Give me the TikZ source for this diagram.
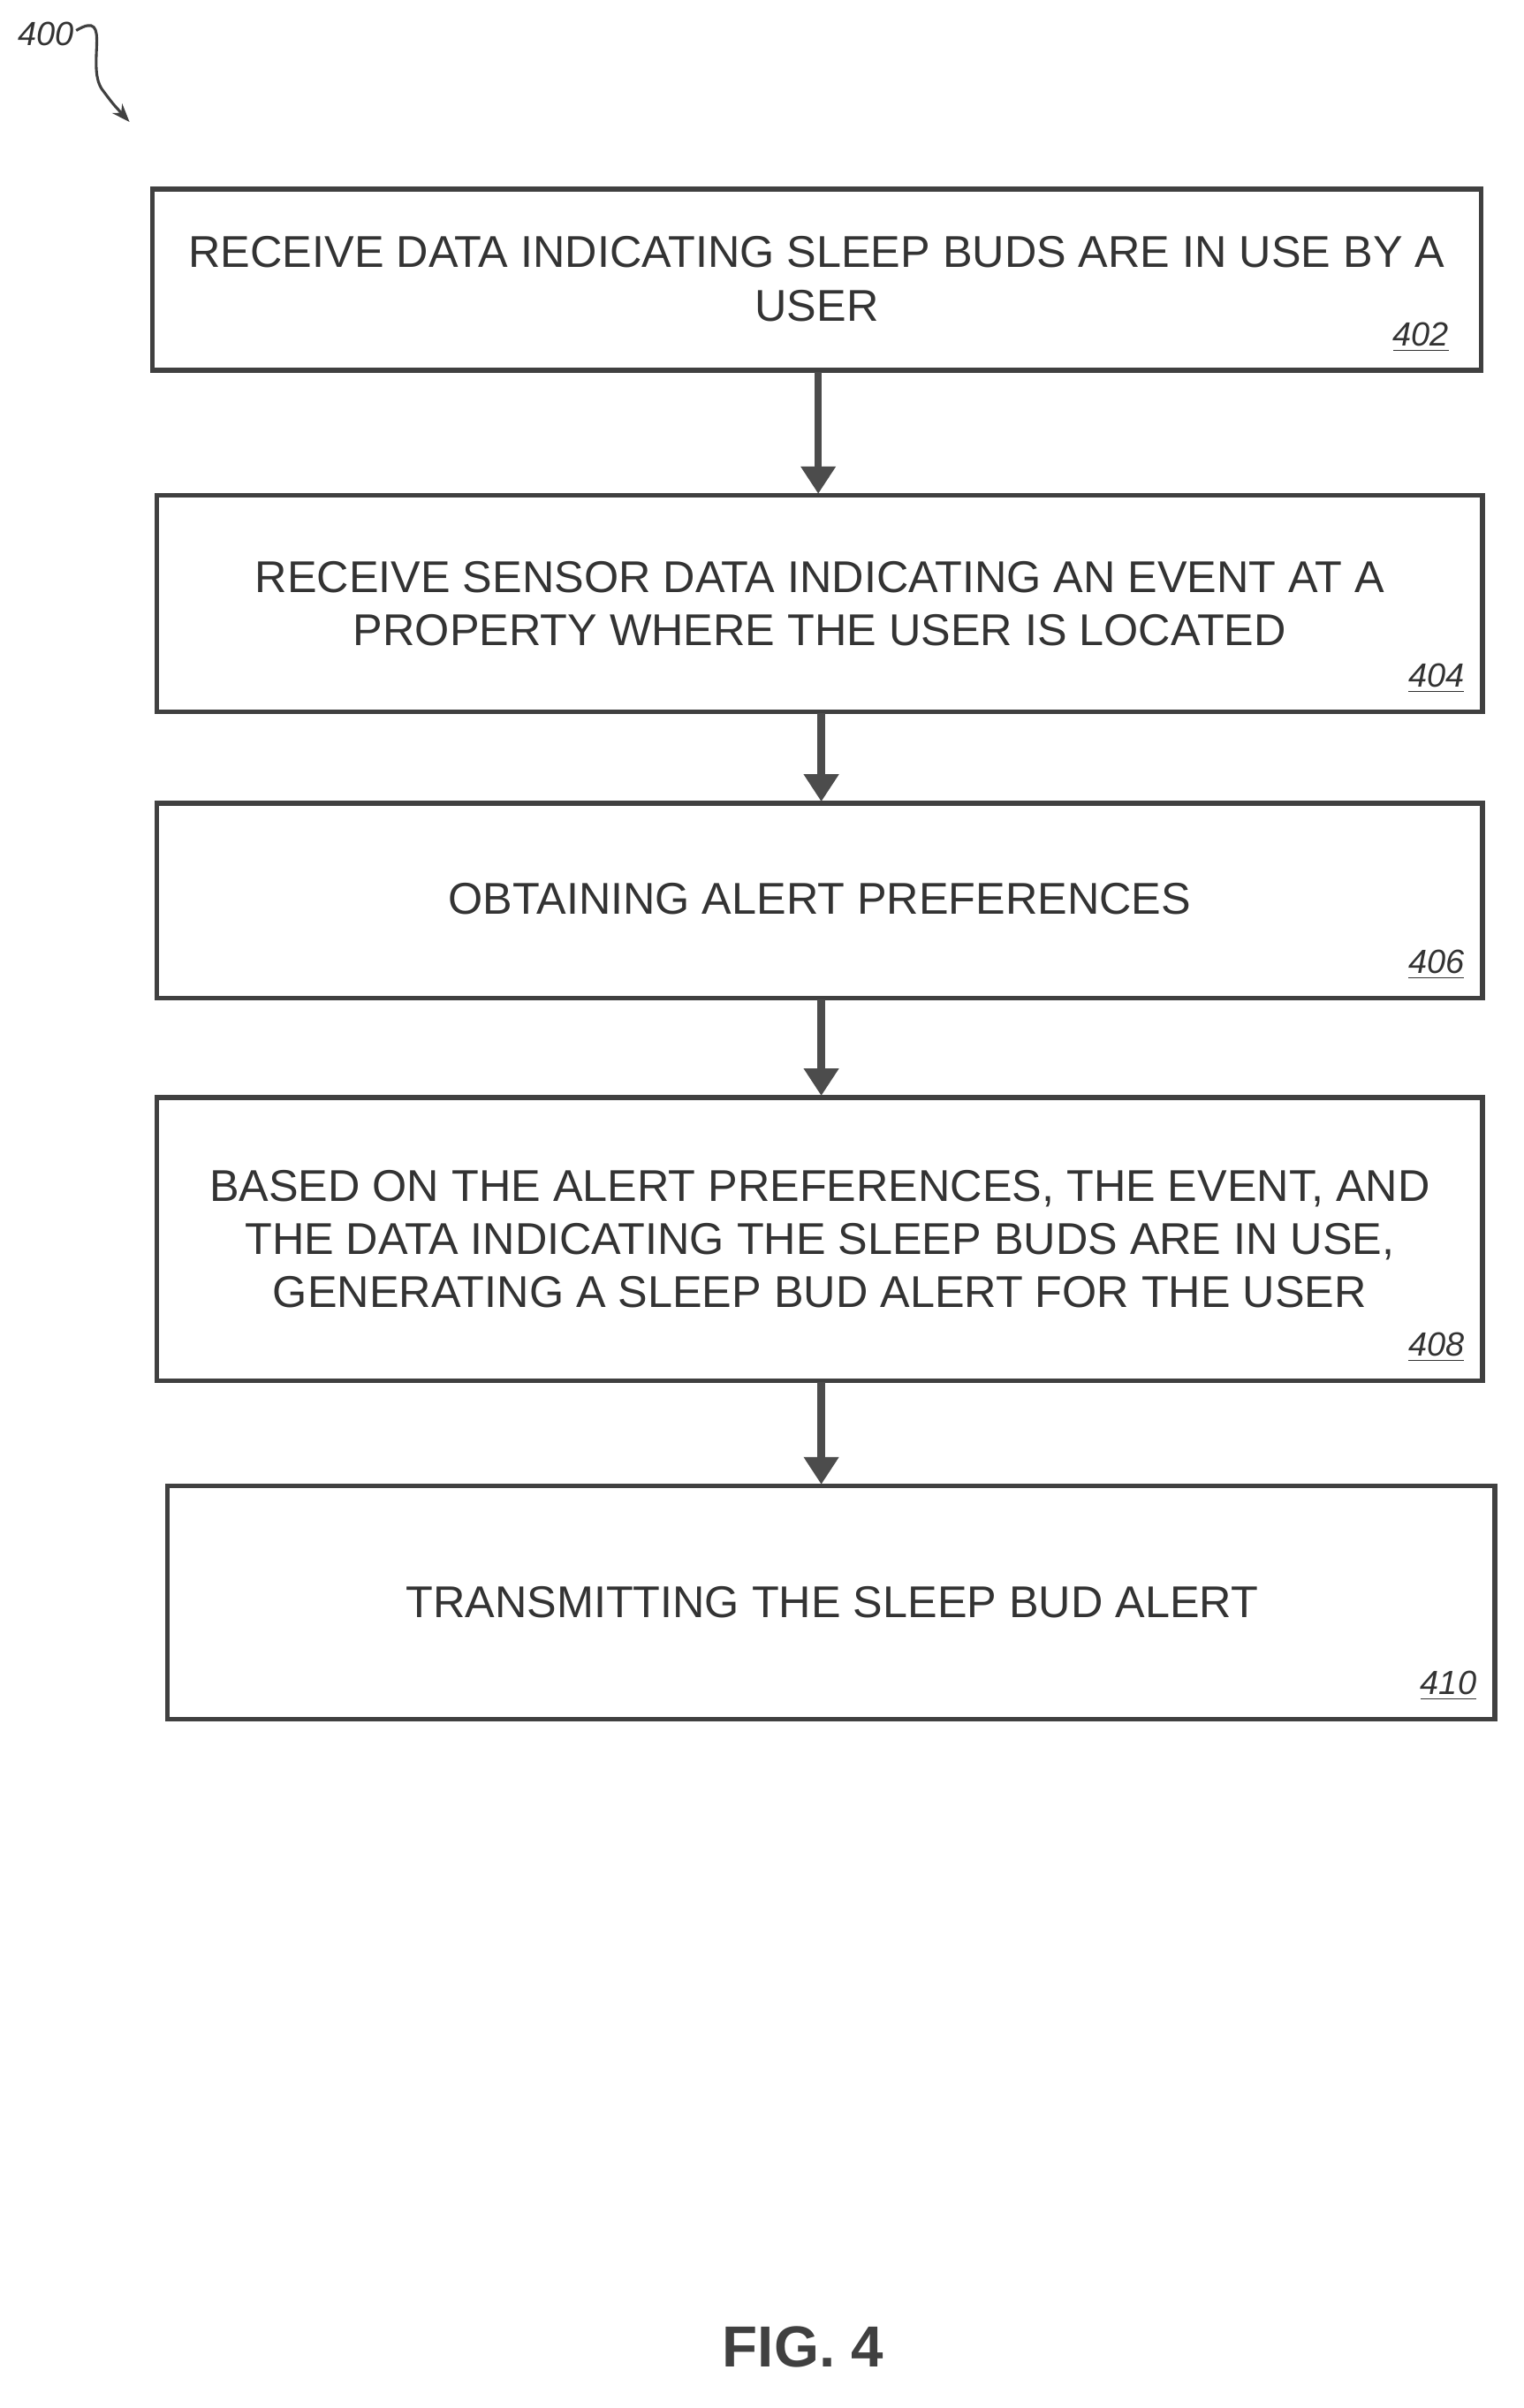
\documentclass[tikz,border=0pt]{standalone}
\usepackage{fontspec}
\setmainfont{Liberation Sans}
\usetikzlibrary{arrows.meta,decorations.pathmorphing}
\begin{document}
\begin{tikzpicture}[x=0.5pt,y=-0.5pt,
  box/.style={draw=black!75,line width=1.6pt,inner sep=0pt},
  txt/.style={align=center,font=\fontsize{14.6}{17.5}\selectfont,text=black!80},
  ref/.style={anchor=south east,font=\itshape\fontsize{11}{12}\selectfont,text=black!80},
  flow/.style={draw=black!70,line width=2.5pt,-{Triangle[width=11pt,length=9pt]}}]
\useasboundingbox (0,0) rectangle (1000,1580);
\draw[box] (100,124) rectangle (972,243);
\node[txt] (t402) at (536,183) {RECEIVE DATA INDICATING SLEEP BUDS ARE IN USE BY A\\USER};
\node[ref] (r402) at (958,238) {\underline{402}};
\draw[box] (103,325) rectangle (973,467);
\node[txt] (t404) at (538,396) {RECEIVE SENSOR DATA INDICATING AN EVENT AT A\\PROPERTY WHERE THE USER IS LOCATED};
\node[ref] (r404) at (968,462) {\underline{404}};
\draw[box] (103,527) rectangle (973,655);
\node[txt] (t406) at (538,590) {OBTAINING ALERT PREFERENCES};
\node[ref] (r406) at (968,650) {\underline{406}};
\draw[box] (103,720) rectangle (973,906);
\node[txt] (t408) at (538,813) {BASED ON THE ALERT PREFERENCES, THE EVENT, AND\\THE DATA INDICATING THE SLEEP BUDS ARE IN USE,\\GENERATING A SLEEP BUD ALERT FOR THE USER};
\node[ref] (r408) at (968,901) {\underline{408}};
\draw[box] (110,975) rectangle (981,1128);
\node[txt] (t410) at (546,1051) {TRANSMITTING THE SLEEP BUD ALERT};
\node[ref] (r410) at (976,1123) {\underline{410}};
\coordinate (a1) at (537,244); \coordinate (b1) at (537,324);
\coordinate (a2) at (539,468); \coordinate (b2) at (539,526);
\coordinate (a3) at (539,656); \coordinate (b3) at (539,719);
\coordinate (a4) at (539,907); \coordinate (b4) at (539,974);
\draw[flow] (a1)--(b1); \draw[flow] (a2)--(b2); \draw[flow] (a3)--(b3); \draw[flow] (a4)--(b4);
\node[font=\itshape\fontsize{11}{13}\selectfont,text=black!80] (n400) at (30,22) {400};
\coordinate (s0) at (50,20); \coordinate (s1) at (85,80);
\draw[black!75,line width=0.9pt,-{Stealth[length=6pt]}] (s0) .. controls (75,5) and (55,45) .. (68,60) .. controls (74,68) .. (s1);
\node[font=\bfseries\fontsize{19}{22}\selectfont,text=black!75] (fig) at (527,1540) {FIG. 4};
\end{tikzpicture}
\end{document}
